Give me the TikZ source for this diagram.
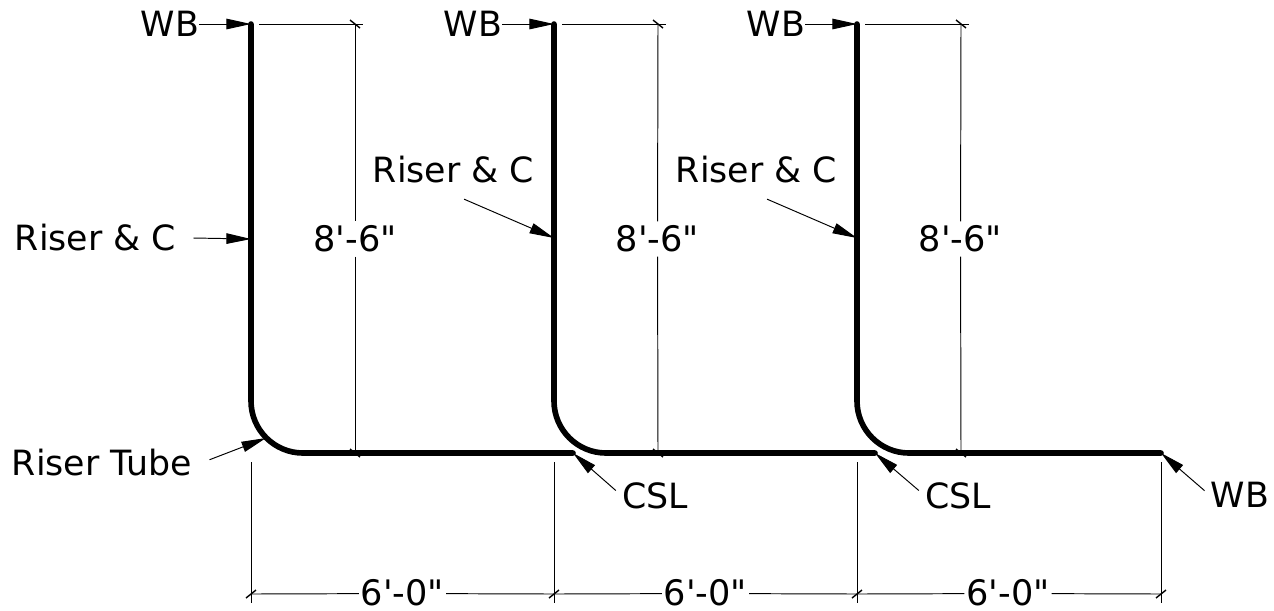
\documentclass[tikz,border=0pt]{standalone}
\usepackage{fontspec}
\usetikzlibrary{arrows.meta}
\newfontfamily\drawingfont{DejaVu Sans}
\tikzset{
	rebar/.style={line width=3.2pt, rounded corners=1.04cm, line cap=round},
	dimline/.style={line width=0.55pt},
	leader/.style={line width=0.55pt, -{Triangle[length=14pt, width=6pt]}},
	note/.style={font=\drawingfont\fontsize{19.8}{24}\selectfont, text height=14pt, text depth=0pt,
		inner xsep=9.7pt, inner ysep=9.4pt},
	dimtext/.style={note, font=\drawingfont\fontsize{20}{24}\selectfont, inner xsep=1pt, inner ysep=2.8pt},
}
\begin{document}
\begin{tikzpicture}[x=0.02cm, y=-0.02cm]
	\useasboundingbox (0,0) rectangle (1274,610);

	\coordinate (topA) at (251,24);
	\coordinate (topB) at (554,24);
	\coordinate (topC) at (857,24);
	\coordinate (cornerA) at (251,453);
	\coordinate (cornerB) at (554,453);
	\coordinate (cornerC) at (857,453);
	\coordinate (endA) at (573,453);
	\coordinate (endB) at (875,453);
	\coordinate (endC) at (1161,453);
	\coordinate (midA) at (251,239);
	\coordinate (midB) at (554,238);
	\coordinate (midC) at (857,238);
	\coordinate (bendA) at (266,438);

	\draw[rebar] (topA) -- (cornerA) -- (endA);
	\draw[rebar] (topB) -- (cornerB) -- (endB);
	\draw[rebar] (topC) -- (cornerC) -- (endC);

	\node[note, inner sep=0pt] (wbA) at (170,24) {WB};
	\node[note, inner sep=0pt] (wbB) at (473,24) {WB};
	\node[note, inner sep=0pt] (wbC) at (776,24) {WB};
	\node[note] (riserA) at (95.5,238) {Riser \& C};
	\node[note] (riserB) at (453.5,170) {Riser \& C};
	\node[note] (riserC) at (756.5,170) {Riser \& C};
	\node[note] (tube) at (102,463.5) {Riser Tube};
	\node[note, inner xsep=3.4pt] (cslA) at (655,496) {CSL};
	\node[note, inner xsep=3.4pt] (cslB) at (958,496) {CSL};
	\node[note, inner xsep=3.4pt] (wbEnd) at (1240,495) {WB};

	\draw[leader] (wbA.east) -- (topA);
	\draw[leader] (wbB.east) -- (topB);
	\draw[leader] (wbC.east) -- (topC);
	\draw[leader] (riserA.east) -- (midA);
	\draw[leader] (riserB.-70) -- (midB);
	\draw[leader] (riserC.-70) -- (midC);
	\draw[leader] (tube.2.4) -- (bendA);
	\draw[leader] (cslA.172.5) -- (endA);
	\draw[leader] (cslB.172.5) -- (endB);
	\draw[leader] (wbEnd.173.3) -- (endC);

	% height dimensions
	\node[dimtext] (heightA) at (355,239) {8'-6"};
	\node[dimtext] (heightB) at (657.5,239) {8'-6"};
	\node[dimtext] (heightC) at (960.5,239) {8'-6"};
	\coordinate (upA) at (355,24);
	\coordinate (upB) at (658,24);
	\coordinate (upC) at (961,24);
	\coordinate (lowA) at (355,453);
	\coordinate (lowB) at (658,453);
	\coordinate (lowC) at (961,453);
	\draw[dimline] (upA) -- (heightA) -- (lowA);
	\draw[dimline] (upB) -- (heightB) -- (lowB);
	\draw[dimline] (upC) -- (heightC) -- (lowC);
	\draw[dimline] (259,24) -- (363,24);
	\draw[dimline] (562,24) -- (666,24);
	\draw[dimline] (865,24) -- (969,24);

	% width dimensions
	\node[dimtext, inner ysep=0pt] (widthA) at (402.5,593.5) {6'-0"};
	\node[dimtext, inner ysep=0pt] (widthB) at (705.5,593.5) {6'-0"};
	\node[dimtext, inner ysep=0pt] (widthC) at (1008,593.5) {6'-0"};
	\coordinate (spanA) at (251,594);
	\coordinate (spanB) at (554,594);
	\coordinate (spanC) at (857,594);
	\coordinate (spanD) at (1161,594);
	\draw[dimline] (spanA) -- (widthA) -- (spanB) -- (widthB) -- (spanC) -- (widthC) -- (spanD);
	\draw[dimline] (251,462) -- (251,603);
	\draw[dimline] (554,462) -- (554,603);
	\draw[dimline] (857,462) -- (857,603);
	\draw[dimline] (1161,462) -- (1161,603);

	% ticks
	\draw[dimline, line width=0.8pt] (350,20) -- (360,28) (653,20) -- (663,28) (956,20) -- (966,28);
	\draw[dimline, line width=0.8pt] (350,449) -- (360,457) (653,449) -- (663,457) (956,449) -- (966,457);
	\draw[dimline, line width=0.8pt] (246,598) -- (256,590) (549,598) -- (559,590) (852,598) -- (862,590) (1156,598) -- (1166,590);
\end{tikzpicture}
\end{document}
